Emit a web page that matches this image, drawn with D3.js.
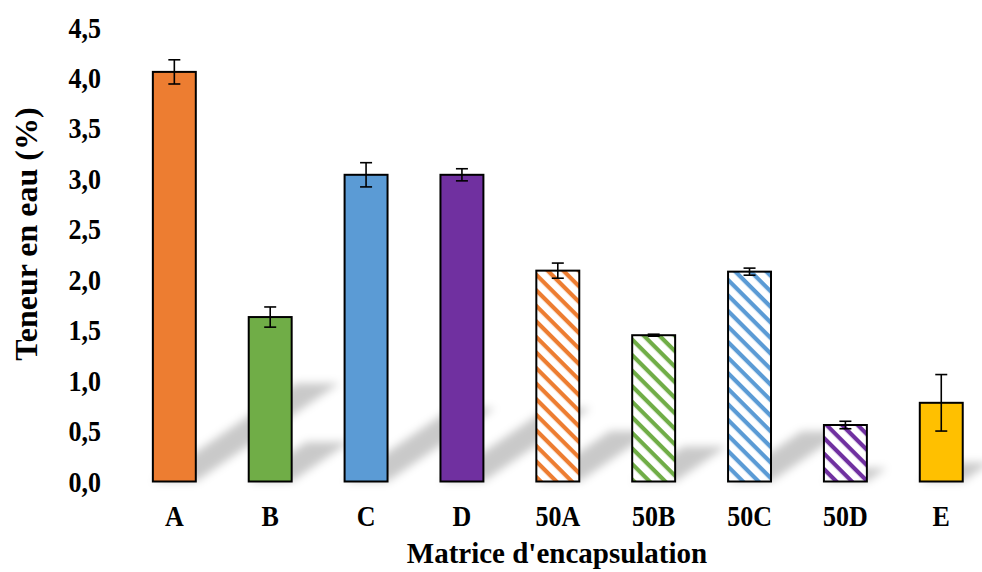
<!DOCTYPE html>
<html>
<head>
<meta charset="utf-8">
<script src="https://cdn.jsdelivr.net/npm/d3@7"></script>
<style>
  html, body { margin: 0; padding: 0; background: #fff; }
  text { font-family: "Liberation Serif", "Times New Roman", serif; font-weight: bold; fill: #000; }
</style>
</head>
<body>
<svg id="chart" width="982" height="572"></svg>
<script>
const categories = ["A", "B", "C", "D", "50A", "50B", "50C", "50D", "E"];
const values     = [4.06, 1.63, 3.04, 3.04, 2.09, 1.45, 2.08, 0.56, 0.78];
const errors     = [0.12, 0.10, 0.12, 0.06, 0.075, 0.01, 0.035, 0.037, 0.28];
const colors     = ["#ED7D31", "#70AD47", "#5B9BD5", "#7030A0", "#ED7D31", "#70AD47", "#5B9BD5", "#7030A0", "#FFC000"];
const hatched    = [false, false, false, false, true, true, true, true, false];
const yTicks     = [0, 0.5, 1, 1.5, 2, 2.5, 3, 3.5, 4, 4.5];
const yTitle = "Teneur en eau (%)";
const xTitle = "Matrice d'encapsulation";

const svg = d3.select("#chart");
const x = d3.scaleBand().domain(categories).range([126.4, 989.2]).paddingInner(0.552).paddingOuter(0.276);
const y = d3.scaleLinear().domain([0, 4.5]).range([481.5, 27.5]);
const fmt = v => d3.format(".1f")(v).replace(".", ",");

const defs = svg.append("defs");
const blur = defs.append("filter").attr("id", "shadowBlur")
  .attr("x", "-50%").attr("y", "-50%").attr("width", "200%").attr("height", "200%");
blur.append("feGaussianBlur").attr("stdDeviation", 4.5);

const uniq = Array.from(new Set(colors.filter((c, i) => hatched[i])));
uniq.forEach(c => {
  const p = defs.append("pattern")
    .attr("id", "hatch" + c.slice(1))
    .attr("patternUnits", "userSpaceOnUse")
    .attr("width", 11).attr("height", 11)
    .attr("patternTransform", "rotate(45)");
  p.append("rect").attr("width", 11).attr("height", 11).attr("fill", "#fff");
  p.append("rect").attr("width", 11).attr("height", 4.2).attr("fill", c);
});

const data = categories.map((c, i) => ({ c, v: values[i], e: errors[i], col: colors[i], h: hatched[i] }));

// perspective shadows
const k1 = 0.35, k2 = 0.24;
svg.append("g").attr("filter", "url(#shadowBlur)")
  .selectAll("path").data(data).enter().append("path")
  .attr("d", d => {
    const x0 = x(d.c), x1 = x(d.c) + x.bandwidth();
    const y0 = y(0), h = y(0) - y(d.v);
    return `M${x0},${y0} L${x1},${y0} L${x1 + h * k1},${y0 - h * k2} L${x0 + h * k1},${y0 - h * k2} Z`;
  })
  .attr("fill", "#000").attr("fill-opacity", 0.21);

// bars
svg.append("g").selectAll("rect").data(data).enter().append("rect")
  .attr("x", d => x(d.c)).attr("width", x.bandwidth())
  .attr("y", d => y(d.v)).attr("height", d => y(0) - y(d.v))
  .attr("fill", d => d.h ? `url(#hatch${d.col.slice(1)})` : d.col)
  .attr("stroke", "#000").attr("stroke-width", 2);

// error bars
const eg = svg.append("g").attr("stroke", "#000").attr("stroke-width", 1.6);
data.forEach(d => {
  const cx = x(d.c) + x.bandwidth() / 2;
  eg.append("line").attr("x1", cx).attr("x2", cx).attr("y1", y(d.v + d.e)).attr("y2", y(d.v - d.e));
  [d.v + d.e, d.v - d.e].forEach(v => {
    eg.append("line").attr("x1", cx - 6).attr("x2", cx + 6).attr("y1", y(v)).attr("y2", y(v));
  });
});

// y axis (no line)
const yAxis = d3.axisLeft(y).tickValues(yTicks).tickFormat(fmt).tickSize(0).tickPadding(0);
const ya = svg.append("g").attr("transform", "translate(101,0)").call(yAxis);
ya.select(".domain").remove();
ya.selectAll("text").attr("font-size", 26).attr("font-family", null).attr("dy", "0.33em")
  .attr("transform", "scale(1,1.12)");

// x axis (no line)
const xAxis = d3.axisBottom(x).tickSize(0).tickPadding(0);
const xa = svg.append("g").attr("transform", "translate(0,505)").call(xAxis);
xa.select(".domain").remove();
xa.selectAll("text").attr("font-size", 26).attr("font-family", null).attr("dy", "0.71em")
  .attr("transform", "scale(1,1.12)");

svg.append("text").attr("x", 557).attr("y", 563).attr("text-anchor", "middle")
  .attr("font-size", 29).text(xTitle);
svg.append("text").attr("transform", "translate(37,234) rotate(-90)").attr("text-anchor", "middle")
  .attr("font-size", 32).text(yTitle);
</script>
</body>
</html>
